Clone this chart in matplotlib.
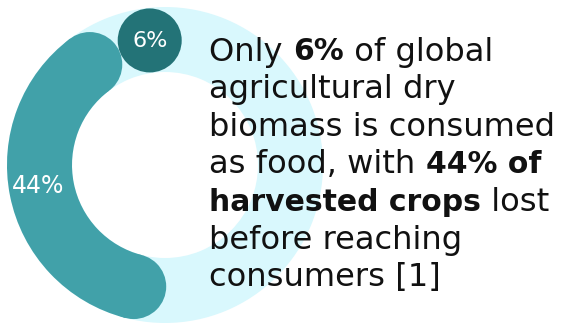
import matplotlib
matplotlib.use("Agg")
import matplotlib.pyplot as plt
from matplotlib.patches import Wedge, Circle
import numpy as np

# data
shares = [44, 6]
share_labels = ["44%", "6%"]
text_lines = [
    [("Only ", False), ("6%", True), (" of global", False)],
    [("agricultural dry", False)],
    [("biomass is consumed", False)],
    [("as food, with ", False), ("44% of", True)],
    [("harvested crops", True), (" lost", False)],
    [("before reaching", False)],
    [("consumers [1]", False)],
]

W, H = 566, 325
FONT = "DejaVu Sans"
fig = plt.figure(figsize=(W / 100, H / 100), dpi=100)
ax = fig.add_axes([0, 0, 1, 1])
ax.set_xlim(0, W)
ax.set_ylim(H, 0)
ax.set_aspect("equal")
ax.axis("off")

cx, cy = 165, 165
r_out, r_in = 158, 93
r_mid = (r_out + r_in) / 2
half = (r_out - r_in) / 2


def pt(angle):
    a = np.radians(angle)
    # y axis is flipped, so subtract the sine
    return cx + r_mid * np.cos(a), cy - r_mid * np.sin(a)


# background ring
ax.add_patch(Wedge((cx, cy), r_out, 0, 360, width=r_out - r_in,
                   color="#d9f8fd", lw=0))

# big arc (counterclockwise, visual start at 112 deg, round caps)
span = shares[0] / 100 * 360
cap = np.degrees(half / r_mid)
a0 = 112 + cap
a1 = 112 + span - cap
ax.add_patch(Wedge((cx, cy), r_out, -a1, -a0, width=r_out - r_in,
                   color="#41a1a9", lw=0))
for a in (a0, a1):
    ax.add_patch(Circle(pt(a), half, color="#41a1a9", lw=0))
ax.text(38, 186, share_labels[0], color="white", fontsize=17,
        family=FONT, ha="center", va="center")

# small circle
sx, sy = pt(97)
ax.add_patch(Circle((sx, sy), 32, color="#237377", lw=0))
ax.text(sx, sy + 1, share_labels[1], color="white", fontsize=16,
        family=FONT, ha="center", va="center")

# right-hand text with mixed weights
fig.canvas.draw()
renderer = fig.canvas.get_renderer()


def width(s, bold, size):
    w = "bold" if bold else "normal"
    t1 = ax.text(0, 0, "|" + s + "|", fontsize=size, family=FONT, fontweight=w)
    t2 = ax.text(0, 0, "||", fontsize=size, family=FONT, fontweight=w)
    d = t1.get_window_extent(renderer).width - t2.get_window_extent(renderer).width
    t1.remove()
    t2.remove()
    return d


# fit font size so the widest line spans about the same width as the reference
size = 18 * 346 / width("biomass is consumed", False, 18)
bold_size = size * 0.93

x0, y0, dy = 209, 60.5, 37.6
for i, line in enumerate(text_lines):
    x = x0
    for s, bold in line:
        fs = bold_size if bold else size
        ax.text(x, y0 + i * dy, s, fontsize=fs, family=FONT,
                fontweight="bold" if bold else "normal", color="#111111",
                ha="left", va="baseline")
        x += width(s, bold, fs)

fig.savefig("out.png", dpi=100)
